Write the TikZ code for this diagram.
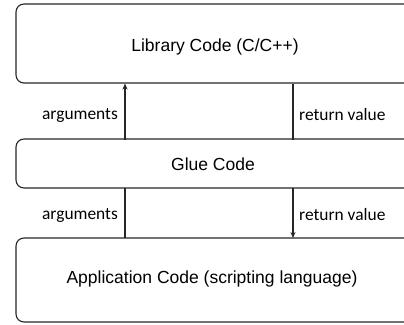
\documentclass[tikz,border=0pt]{standalone}
\usepackage{fontspec}
\setmainfont{Liberation Sans}
\newfontfamily\lblfont{Carlito}
\usetikzlibrary{arrows.meta}
\begin{document}
\begin{tikzpicture}[x=1pt,y=-1pt,
  codebox/.style={draw=black!85,line width=1.1pt,rounded corners=8pt},
  boxtext/.style={font=\fontsize{17.5}{20}\selectfont,inner sep=0pt},
  lbl/.style={font=\lblfont\fontsize{17.4}{20}\selectfont,inner sep=0pt},
  conn/.style={line width=1.1pt,draw=black!85},
  arr/.style={conn,-{Stealth[length=6pt,width=5pt]}}]
\useasboundingbox (0,0) rectangle (404,324);
\draw[codebox] (16,4) rectangle (414,83);
\draw[codebox] (16,139) rectangle (414,188);
\draw[codebox] (16,238) rectangle (414,322);
\node[boxtext] (lib) at (215,47) {Library Code (C/C++)};
\node[boxtext] (glue) at (213,164) {Glue Code};
\node[boxtext] (app) at (212,279) {Application Code (scripting language)};
\coordinate (a1s) at (125,139.5);
\coordinate (a1e) at (125,83.5);
\coordinate (r1s) at (293,83.5);
\coordinate (r1e) at (293,139.5);
\coordinate (a2s) at (125,238);
\coordinate (a2e) at (125,188);
\coordinate (r2s) at (293,188);
\coordinate (r2e) at (293,238);
\draw[arr] (a1s) -- (a1e);
\draw[conn] (r1s) -- (r1e);
\draw[conn] (a2s) -- (a2e);
\draw[arr] (r2s) -- (r2e);
\node[lbl,anchor=east] (la1) at (118,115) {arguments};
\node[lbl,anchor=west] (lr1) at (299,115) {return value};
\node[lbl,anchor=east] (la2) at (118,215) {arguments};
\node[lbl,anchor=west] (lr2) at (299,215) {return value};
\end{tikzpicture}
\end{document}
